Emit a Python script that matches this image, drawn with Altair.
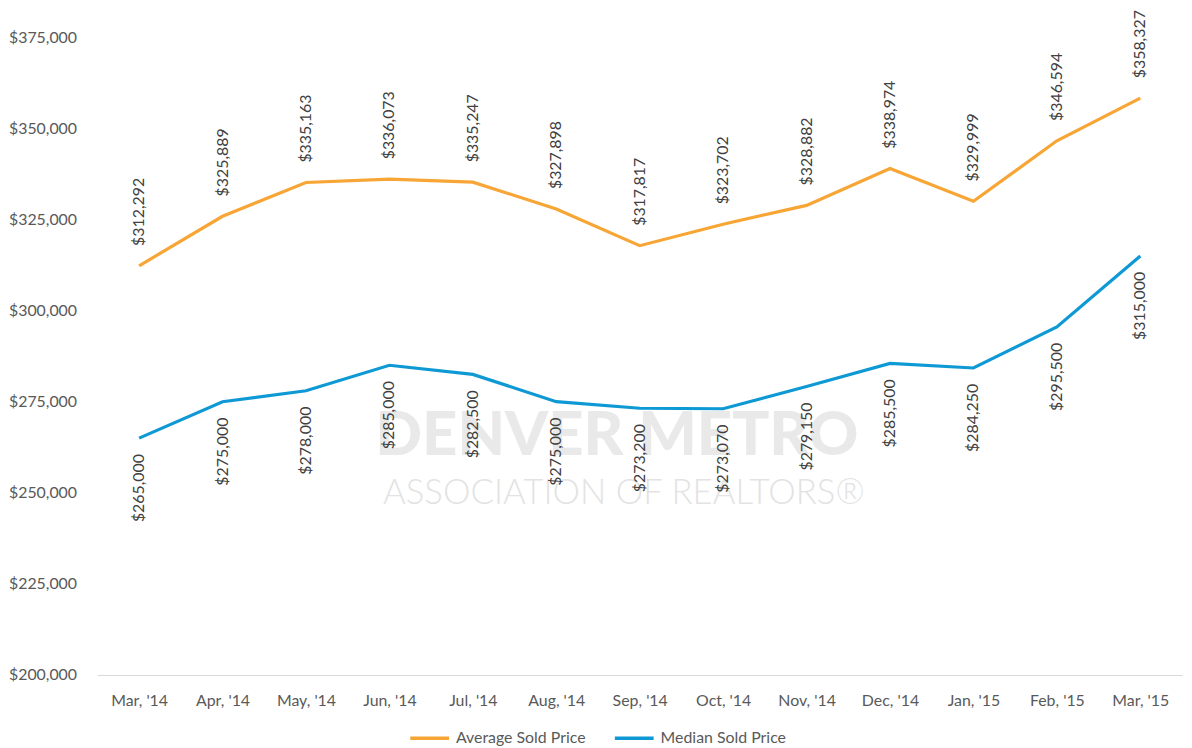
import altair as alt
import pandas as pd

months = ["Mar, '14", "Apr, '14", "May, '14", "Jun, '14", "Jul, '14", "Aug, '14",
          "Sep, '14", "Oct, '14", "Nov, '14", "Dec, '14", "Jan, '15", "Feb, '15", "Mar, '15"]
average = [312292, 325889, 335163, 336073, 335247, 327898, 317817,
           323702, 328882, 338974, 329999, 346594, 358327]
median = [265000, 275000, 278000, 285000, 282500, 275000, 273200,
          273070, 279150, 285500, 284250, 295500, 315000]
series_names = ["Average Sold Price", "Median Sold Price"]
series_colors = ["#F7A535", "#0E99D5"]
y_ticks = [200000, 225000, 250000, 275000, 300000, 325000, 350000, 375000]
watermark = ["DENVER METRO", "ASSOCIATION OF REALTORS®"]

rows = []
for m, a, md in zip(months, average, median):
    rows.append({"month": m, "series": series_names[0], "value": a})
    rows.append({"month": m, "series": series_names[1], "value": md})
df = pd.DataFrame(rows)

FONT = "Lato"

x = alt.X("month:N", sort=months,
          scale=alt.Scale(type="point", padding=0.5),
          axis=alt.Axis(title=None, labelAngle=0, ticks=False, domainColor="#D9D9D9",
                        domainWidth=1, labelColor="#595959", labelFontSize=16,
                        labelFont=FONT, labelPadding=18))
y = alt.Y("value:Q",
          scale=alt.Scale(domain=[200000, 375000], nice=False, zero=False),
          axis=alt.Axis(title=None, values=y_ticks, format="$,.0f", grid=False,
                        domain=False, ticks=False, labelPadding=21, labelColor="#595959",
                        labelFontSize=16, labelFont=FONT))

color = alt.Color("series:N",
                  scale=alt.Scale(domain=series_names, range=series_colors),
                  legend=alt.Legend(orient="none", legendX=313, legendY=684,
                                    direction="horizontal", title=None,
                                    symbolType="stroke", symbolSize=1521,
                                    symbolStrokeWidth=3.5, labelFontSize=16,
                                    labelFont=FONT, labelColor="#595959",
                                    columnPadding=22, labelOffset=5))

wm_df = pd.DataFrame({"t": watermark})
wm1 = alt.Chart(wm_df).transform_filter(alt.datum.t == watermark[0]).mark_text(
    font=FONT, fontSize=62, fontWeight=900, color="#E9E9E9", align="center", baseline="middle"
).encode(text="t:N", x=alt.value(523), y=alt.value(402))
wm2 = alt.Chart(wm_df).transform_filter(alt.datum.t == watermark[1]).mark_text(
    font=FONT, fontSize=35, fontWeight=300, color="#E3E3E3", align="center", baseline="middle"
).encode(text="t:N", x=alt.value(530), y=alt.value(459))

base = alt.Chart(df)
lines = base.mark_line(strokeWidth=3.2).encode(x=x, y=y, color=color)

avg_text = base.transform_filter(alt.datum.series == series_names[0]).mark_text(
    angle=270, align="left", baseline="middle", dx=20, fontSize=16, font=FONT, color="#404040"
).encode(x=x, y=y, text=alt.Text("value:Q", format="$,.0f"))
med_text = base.transform_filter(alt.datum.series == series_names[1]).mark_text(
    angle=270, align="right", baseline="middle", dx=-16, fontSize=16, font=FONT, color="#404040"
).encode(x=x, y=y, text=alt.Text("value:Q", format="$,.0f"))

chart = alt.layer(wm1, wm2, lines, avg_text, med_text).properties(
    width=1092, height=642,
    autosize=alt.AutoSizeParams(type="none"),
    padding={"left": 90, "top": 27, "right": 2, "bottom": 71},
    background="white",
).configure_view(stroke=None)

chart.save("out.html", embed_options={"renderer": "svg", "actions": False})
